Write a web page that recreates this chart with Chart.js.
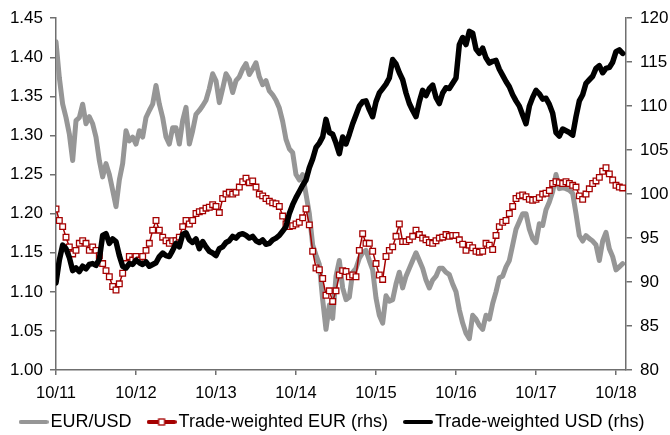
<!DOCTYPE html>
<html>
<head>
<meta charset="utf-8">
<script src="https://cdn.jsdelivr.net/npm/chart.js@4.4.1/dist/chart.umd.min.js"></script>
<style>
  html, body { margin: 0; padding: 0; background: #fff; }
</style>
</head>
<body>
<canvas id="myChart" width="670" height="435"></canvas>
<script>
// data: semi-monthly readings, starting Oct 2011
const xTickLabels = ['10/11', '10/12', '10/13', '10/14', '10/15', '10/16', '10/17', '10/18'];
const seriesNames = ['EUR/USD', 'Trade-weighted EUR (rhs)', 'Trade-weighted USD (rhs)'];

const eurUsd = [
  1.420, 1.374, 1.340, 1.323, 1.302, 1.268, 1.319, 1.323, 1.340, 1.315,
  1.324, 1.315, 1.298, 1.268, 1.247, 1.264, 1.250, 1.230, 1.209, 1.243,
  1.264, 1.306, 1.293, 1.298, 1.289, 1.306, 1.298, 1.323, 1.332, 1.340,
  1.364, 1.340, 1.323, 1.298, 1.289, 1.310, 1.310, 1.289, 1.319, 1.336,
  1.289, 1.306, 1.327, 1.332, 1.338, 1.345, 1.360, 1.379, 1.370, 1.342,
  1.360, 1.379, 1.372, 1.355, 1.370, 1.375, 1.385, 1.392, 1.378, 1.385,
  1.393, 1.375, 1.365, 1.370, 1.357, 1.352, 1.345, 1.335, 1.318, 1.295,
  1.283, 1.278, 1.250, 1.243, 1.250, 1.225, 1.200, 1.160, 1.147, 1.135,
  1.090, 1.052, 1.083, 1.066, 1.120, 1.140, 1.105, 1.090, 1.093, 1.125,
  1.130, 1.143, 1.150, 1.153, 1.140, 1.128, 1.092, 1.070, 1.060, 1.095,
  1.088, 1.090, 1.110, 1.125, 1.105, 1.120, 1.130, 1.140, 1.150, 1.140,
  1.130, 1.115, 1.105, 1.115, 1.120, 1.130, 1.130, 1.125, 1.122, 1.110,
  1.100, 1.077, 1.060, 1.047, 1.040, 1.070, 1.065, 1.057, 1.052, 1.070,
  1.065, 1.085, 1.100, 1.118, 1.120, 1.132, 1.140, 1.160, 1.180, 1.190,
  1.200, 1.200, 1.180, 1.168, 1.163, 1.187, 1.185, 1.205, 1.215, 1.228,
  1.250, 1.232, 1.233, 1.232, 1.230, 1.226, 1.200, 1.172, 1.165, 1.172,
  1.168, 1.165, 1.160, 1.140, 1.165, 1.176, 1.155, 1.145, 1.128, 1.132,
  1.136
];

const twEur = [
  98.3, 97.0, 96.3, 95.1, 94.0, 93.2, 93.6, 94.4, 94.7, 94.4,
  93.6, 94.0, 93.6, 93.0, 92.1, 91.3, 90.6, 89.5, 89.1, 89.8,
  91.0, 92.1, 92.9, 92.5, 92.9, 92.5, 92.9, 93.6, 94.4, 95.9,
  97.0, 95.9, 95.1, 94.7, 94.4, 94.7, 94.7, 95.1, 96.3, 97.0,
  96.6, 97.0, 97.8, 98.0, 98.1, 98.4, 98.5, 98.8, 98.6, 97.9,
  99.5, 100.0, 100.2, 100.0, 100.2, 100.8, 101.4, 101.8, 101.3, 101.5,
  100.8, 100.0, 99.8, 99.5, 99.2, 99.0, 98.9, 98.6, 97.5, 96.6,
  96.3, 96.4, 96.6, 96.8, 97.3, 98.3, 96.5, 93.5, 91.6, 91.4,
  90.4, 88.5, 89.0, 87.8, 89.0, 90.8, 91.3, 91.2, 90.6, 90.8,
  90.6, 93.6, 95.5, 94.4, 94.4, 93.5, 92.1, 90.8, 90.3, 92.9,
  93.6, 94.0, 95.2, 96.6, 94.6, 94.6, 94.8, 95.2, 95.9, 95.4,
  95.0, 94.8, 94.5, 94.4, 94.7, 95.0, 95.1, 95.4, 95.2, 95.3,
  95.3, 94.8, 94.3, 93.6, 94.2, 93.9, 93.5, 93.4, 93.5, 94.4,
  94.2, 93.7, 95.3, 96.3, 96.8, 97.0, 97.8, 98.6, 99.5, 99.8,
  99.9, 99.7, 99.4, 99.3, 99.4, 99.6, 100.0, 100.1, 100.4, 101.2,
  101.4, 101.3, 101.2, 101.4, 101.2, 101.0, 100.8, 99.8, 99.4, 100.0,
  100.6, 101.2, 101.5, 101.9, 102.6, 103.0, 102.3, 101.6, 101.0, 100.8,
  100.7
];

const twUsd = [
  89.9, 92.5, 94.2, 93.8, 92.8, 91.3, 91.6, 91.2, 91.8, 91.5,
  92.0, 92.1, 91.9, 92.6, 95.3, 95.5, 94.4, 94.9, 94.6, 93.0,
  91.8, 91.6, 92.1, 92.0, 92.5, 92.2, 92.0, 92.3, 91.8, 92.0,
  92.2, 92.9, 93.3, 93.0, 92.9, 93.6, 94.4, 94.0, 95.4, 95.6,
  94.8, 94.5, 94.9, 93.8, 94.6, 94.0, 93.5, 93.3, 93.0, 93.8,
  94.0, 94.5, 94.7, 95.2, 95.0, 95.4, 95.5, 95.3, 95.0, 95.2,
  94.7, 94.5, 94.8, 94.3, 94.4, 94.8, 95.0, 95.3, 95.8, 96.3,
  97.8, 98.8, 99.6, 100.3, 101.0, 101.6, 103.0, 104.0, 105.3, 105.8,
  106.5, 108.5, 107.0, 106.8, 105.8, 104.6, 106.5, 105.7, 106.8, 108.0,
  109.0, 110.0, 110.5, 110.6, 109.6, 108.8, 110.5, 111.5, 112.0, 112.5,
  113.2, 115.3, 114.8, 113.8, 113.0, 111.5, 110.3, 109.5, 108.8, 110.5,
  111.8, 111.2, 112.0, 112.4, 111.0, 110.3, 111.5, 112.1, 112.0, 112.6,
  113.2, 117.0, 117.8, 117.0, 118.5, 118.3, 116.5, 116.0, 116.6, 115.5,
  114.9, 115.1, 115.2, 114.2, 113.5, 112.8, 112.2, 111.3, 110.6, 110.0,
  109.0, 108.0, 110.0, 111.0, 111.8, 111.4, 110.8, 110.9, 110.2, 109.2,
  107.0, 106.6, 107.4, 107.2, 107.0, 106.7, 108.8, 110.6, 111.3, 112.6,
  113.0, 113.4, 114.3, 114.6, 113.8, 114.3, 114.4, 115.0, 116.2, 116.4,
  116.0
];

const colors = ['#969696', '#a50000', '#000000'];
const axisColor = '#6f6f6f';

// x = months since Oct 2011, two readings per month
function toPoints(arr) {
  return arr.map((v, i) => ({ x: i / 2, y: v }));
}

// little legend samples: thick line, red one with a white square
function legendSample(color, marker) {
  const c = document.createElement('canvas');
  c.width = 30;
  c.height = 10;
  const g = c.getContext('2d');
  g.strokeStyle = color;
  g.lineWidth = 4;
  g.lineCap = 'round';
  g.beginPath();
  g.moveTo(2, 5);
  g.lineTo(28, 5);
  g.stroke();
  if (marker) {
    g.fillStyle = '#fff';
    g.fillRect(12, 2, 6, 6);
    g.lineWidth = 1.3;
    g.strokeRect(12, 2, 6, 6);
  }
  return c;
}
const samples = [legendSample(colors[0], false), legendSample(colors[1], true), legendSample(colors[2], false)];

// keep the legend box small, then draw its row a bit higher (as in the original)
const legendPlace = {
  id: 'legendPlace',
  afterInit(chart) {
    const fit = chart.legend.fit;
    chart.legend.fit = function () {
      fit.bind(chart.legend)();
      this.height = 34;
    };
  },
  afterLayout(chart) {
    chart.legend.top = 391;
    chart.legend.bottom = 435;
  }
};

Chart.defaults.font.family = "'Liberation Sans', Arial, sans-serif";
Chart.defaults.color = '#000';

const ctx = document.getElementById('myChart').getContext('2d');
const chart = new Chart(ctx, {
  type: 'line',
  data: {
    datasets: [
      {
        label: seriesNames[0],
        data: toPoints(eurUsd),
        yAxisID: 'y',
        borderColor: colors[0],
        borderWidth: 5,
        pointRadius: 0,
        order: 3
      },
      {
        label: seriesNames[1],
        data: toPoints(twEur),
        yAxisID: 'y1',
        borderColor: colors[1],
        borderWidth: 1.5,
        pointStyle: 'rect',
        pointRadius: 4,
        pointBorderWidth: 1.3,
        pointBorderColor: colors[1],
        pointBackgroundColor: '#fff',
        order: 2
      },
      {
        label: seriesNames[2],
        data: toPoints(twUsd),
        yAxisID: 'y1',
        borderColor: colors[2],
        borderWidth: 5.5,
        pointRadius: 0,
        order: 1
      }
    ]
  },
  options: {
    responsive: false,
    animation: false,
    events: [],
    layout: { padding: { top: 17, left: 0, right: 0, bottom: 0 } },
    elements: { line: { tension: 0, borderJoinStyle: 'round', borderCapStyle: 'round' } },
    plugins: {
      tooltip: { enabled: false },
      legend: {
        position: 'bottom',
        labels: {
          usePointStyle: true,
          pointStyleWidth: 16,
          padding: 22,
          font: { size: 18 },
          color: '#000',
          generateLabels: (c) => c.data.datasets.map((ds, i) => ({
            text: ds.label,
            pointStyle: samples[i],
            fillStyle: 'transparent',
            strokeStyle: 'transparent',
            lineWidth: 0,
            hidden: false,
            datasetIndex: i,
            fontColor: '#000'
          }))
        }
      }
    },
    scales: {
      x: {
        type: 'linear',
        min: 0,
        max: 85.5,
        afterFit: (s) => { s.height = 31; },
        border: { display: true, color: axisColor, width: 1.5 },
        grid: { drawOnChartArea: false, drawTicks: true, tickLength: 5, color: axisColor, lineWidth: 1.5 },
        ticks: {
          stepSize: 12,
          includeBounds: false,
          autoSkip: false,
          maxRotation: 0,
          padding: 9,
          font: { size: 16.5 },
          callback: (v) => xTickLabels[v / 12] || ''
        }
      },
      y: {
        position: 'left',
        min: 1.0,
        max: 1.45,
        afterFit: (s) => { s.width = 56; },
        border: { display: true, color: axisColor, width: 1.5 },
        grid: { drawOnChartArea: false, drawTicks: true, tickLength: 6, color: axisColor, lineWidth: 1.5 },
        ticks: { stepSize: 0.05, padding: 7, font: { size: 17 }, callback: (v) => v.toFixed(2) }
      },
      y1: {
        position: 'right',
        min: 80,
        max: 120,
        afterFit: (s) => { s.width = 44; },
        border: { display: true, color: axisColor, width: 1.5 },
        grid: { drawOnChartArea: false, drawTicks: true, tickLength: 6, color: axisColor, lineWidth: 1.5 },
        ticks: { stepSize: 5, padding: 8, font: { size: 17 } }
      }
    }
  },
  plugins: [legendPlace]
});
</script>
</body>
</html>
